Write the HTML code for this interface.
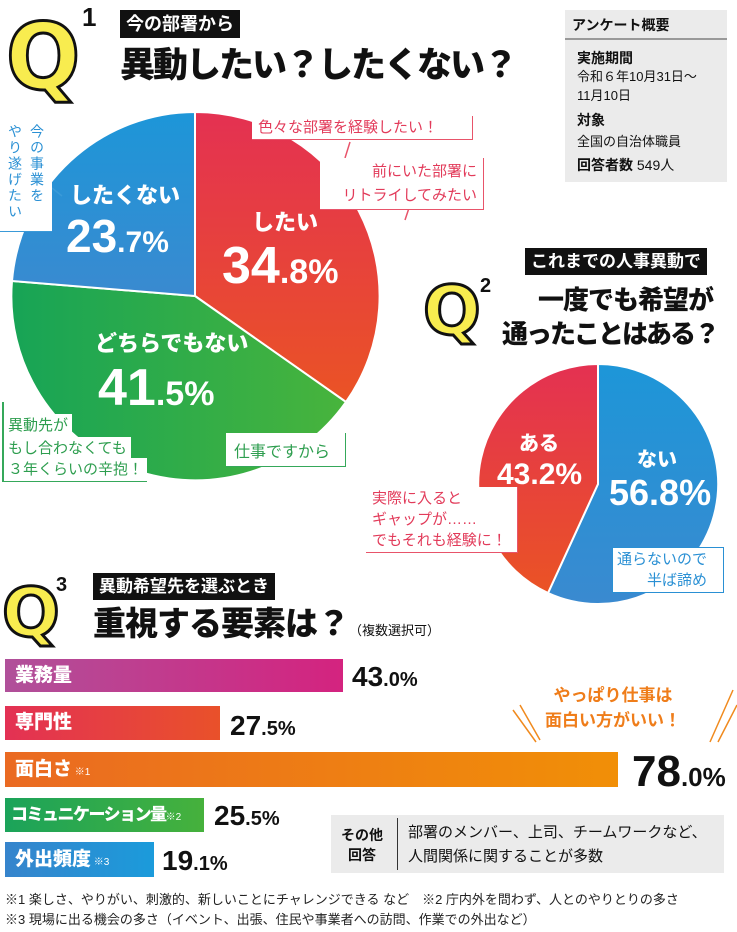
<!DOCTYPE html>
<html><head><meta charset="utf-8"><style>
*{margin:0;padding:0;box-sizing:border-box}
body{width:737px;height:932px;background:#fff;position:relative;overflow:hidden;font-family:"Liberation Sans","Noto Sans CJK JP",sans-serif;color:#111}
.a{position:absolute;white-space:nowrap}
.q{font-weight:900;color:#f8ec4f;-webkit-text-stroke:3px #111;font-family:"DejaVu Sans",sans-serif;line-height:1}
.sup{font-weight:700;color:#111;line-height:1}
.blk{background:#111;color:#fff;font-weight:700;padding:0 6px}
.ttl{font-weight:900;color:#111;line-height:1}
.w{color:#fff;font-weight:900;line-height:1}
.cr{background:#fff;border:1.5px solid #e8546a;color:#e23b5a;font-size:15px;line-height:21px;padding:1px 6px;border-left:none;border-top:none}
.bar{position:absolute;left:5px;color:#fff;font-weight:900;font-size:19px;padding-left:10px}
.pct{position:absolute;font-weight:900;line-height:1;color:#111}
.gl{position:absolute;background:#fff;color:#2e9e4f;font-size:15px;line-height:23px;padding:0 4px}
</style></head><body>

<!-- Q1 header -->
<div class="a q" style="left:4px;top:12px;font-size:92px;transform:scaleX(0.95)">Q</div>
<div class="a sup" style="left:82px;top:4px;font-size:26px">1</div>
<div class="a blk" style="left:120px;top:10px;height:28px;line-height:28px;font-size:18px">今の部署から</div>
<div class="a ttl" style="left:120px;top:48px;font-size:35px;letter-spacing:-2px">異動したい？したくない？</div>

<!-- survey box -->
<div class="a" style="left:565px;top:10px;width:162px;height:172px;background:#ebebeb"></div>
<div class="a" style="left:565px;top:38px;width:162px;height:2px;background:#999"></div>
<div class="a" style="left:572px;top:15px;font-size:14px;font-weight:700">アンケート概要</div>
<div class="a" style="left:577px;top:48px;font-size:14px;font-weight:700;line-height:20px">実施期間</div>
<div class="a" style="left:577px;top:67px;font-size:13px;line-height:19px">令和６年10月31日～<br>11月10日</div>
<div class="a" style="left:577px;top:110px;font-size:14px;font-weight:700">対象</div>
<div class="a" style="left:577px;top:131px;font-size:13px">全国の自治体職員</div>
<div class="a" style="left:577px;top:155px;font-size:14px"><b>回答者数</b> 549人</div>

<svg class="a" style="left:0;top:0" width="737" height="932">
<defs>
<linearGradient id="gr" x1="0" y1="0" x2="0" y2="1"><stop offset="0" stop-color="#e43152"/><stop offset="1" stop-color="#ea5325"/></linearGradient>
<linearGradient id="gg" x1="0" y1="0" x2="1" y2="0"><stop offset="0" stop-color="#17a456"/><stop offset="1" stop-color="#48b43c"/></linearGradient>
<linearGradient id="gb" x1="0" y1="0" x2="0" y2="1"><stop offset="0" stop-color="#1d96d8"/><stop offset="1" stop-color="#3a8ad0"/></linearGradient>
<linearGradient id="b1" x1="0" x2="1"><stop offset="0" stop-color="#b0509a"/><stop offset="1" stop-color="#d4237f"/></linearGradient>
<linearGradient id="b2" x1="0" x2="1"><stop offset="0" stop-color="#e33154"/><stop offset="1" stop-color="#e9512a"/></linearGradient>
<linearGradient id="b3" x1="0" x2="1"><stop offset="0" stop-color="#ea6a22"/><stop offset="1" stop-color="#f18f07"/></linearGradient>
<linearGradient id="b4" x1="0" x2="1"><stop offset="0" stop-color="#1ba35a"/><stop offset="1" stop-color="#46b13c"/></linearGradient>
<linearGradient id="b5" x1="0" x2="1"><stop offset="0" stop-color="#3684cc"/><stop offset="1" stop-color="#1b9bdb"/></linearGradient>
</defs>
<path d="M195,296 L195,112 A184,184 0 0 1 346,402 Z" fill="url(#gr)" stroke="#fff" stroke-width="2"/>
<path d="M195,296 L346,402 A184,184 0 0 1 12,281 Z" fill="url(#gg)" stroke="#fff" stroke-width="2"/>
<path d="M195,296 L12,281 A184,184 0 0 1 195,112 Z" fill="url(#gb)" stroke="#fff" stroke-width="2"/>
<path d="M598,484 L598,364 A120,120 0 1 1 548,593 Z" fill="url(#gb)" stroke="#fff" stroke-width="2"/>
<path d="M598,484 L548,593 A120,120 0 0 1 598,364 Z" fill="url(#gr)" stroke="#fff" stroke-width="2"/>
<rect x="5" y="659" width="338" height="33" fill="url(#b1)"/>
<rect x="5" y="706" width="215" height="34" fill="url(#b2)"/>
<rect x="5" y="752" width="613" height="35" fill="url(#b3)"/>
<rect x="5" y="798" width="199" height="34" fill="url(#b4)"/>
<rect x="5" y="842" width="149" height="35" fill="url(#b5)"/>
<path d="M513,710 L536,742 M520,705 L540,740" stroke="#f08a1e" stroke-width="1.5"/>
<path d="M733,690 L710,742 M737,705 L718,742" stroke="#f08a1e" stroke-width="1.5"/>
<path d="M350,142 L345,158" stroke="#e8546a" stroke-width="1.5"/>
<path d="M410,205 L405,220" stroke="#e8546a" stroke-width="1.5"/>
<path d="M52,188 L62,196" stroke="#3a9ad8" stroke-width="1.5"/>
</svg>

<div class="a w" style="left:70px;top:185px;font-size:22px">したくない</div>
<div class="a w" style="left:66px;top:213px;font-size:46px">23<span style="font-size:30px">.7%</span></div>
<div class="a w" style="left:252px;top:212px;font-size:22px">したい</div>
<div class="a w" style="left:222px;top:240px;font-size:52px">34<span style="font-size:34px">.8%</span></div>
<div class="a w" style="left:95px;top:333px;font-size:22px">どちらでもない</div>
<div class="a w" style="left:98px;top:362px;font-size:52px">41<span style="font-size:34px">.5%</span></div>

<div class="a cr" style="left:252px;top:116px;width:221px">色々な部署を経験したい！</div>
<div class="a cr" style="left:320px;top:158px;width:164px;text-align:right;line-height:24px;padding-top:2px">前にいた部署に<br>リトライしてみたい</div>
<div class="a" style="left:0;top:118px;width:52px;height:114px;background:#fff;border-bottom:1.5px solid #3a9ad8"></div>
<div class="a" style="left:4px;top:124px;writing-mode:vertical-rl;font-size:14px;color:#2a90d4;line-height:22px;letter-spacing:2px">今の事業を<br>やり遂げたい</div>
<div class="a" style="left:2px;top:402px;width:1.5px;height:80px;background:#35a85a"></div>
<div class="gl" style="left:4px;top:414px">異動先が</div>
<div class="gl" style="left:4px;top:437px">もし合わなくても</div>
<div class="gl" style="left:4px;top:458px;border-bottom:1.5px solid #35a85a">３年くらいの辛抱！</div>
<div class="a" style="left:226px;top:433px;width:120px;height:34px;background:#fff;border-right:1.5px solid #35a85a;border-bottom:1.5px solid #35a85a"></div>
<div class="a" style="left:234px;top:438px;font-size:16px;color:#2e9e4f">仕事ですから</div>

<!-- Q2 header -->
<div class="a blk" style="left:525px;top:248px;height:27px;line-height:27px;font-size:17px">これまでの人事異動で</div>
<div class="a q" style="left:423px;top:278px;font-size:68px">Q</div>
<div class="a sup" style="left:480px;top:276px;font-size:20px">2</div>
<div class="a ttl" style="left:538px;top:287px;font-size:26px;letter-spacing:-1px">一度でも希望が</div>
<div class="a ttl" style="left:502px;top:321px;font-size:26px;letter-spacing:-2px">通ったことはある？</div>

<div class="a w" style="left:519px;top:434px;font-size:20px">ある</div>
<div class="a w" style="left:497px;top:460px;font-size:30px">43.2%</div>
<div class="a w" style="left:637px;top:450px;font-size:20px">ない</div>
<div class="a w" style="left:609px;top:475px;font-size:36px">56.8%</div>
<div class="a cr" style="left:366px;top:487px;width:152px;line-height:21px">実際に入ると<br>ギャップが……<br>でもそれも経験に！</div>
<div class="a" style="left:612px;top:547px;width:112px;height:46px;background:#fff;border:1px solid #2a90d4"></div>
<div class="a" style="left:617px;top:549px;font-size:15px;color:#2a90d4;line-height:21px;text-align:right">通らないので<br>半ば諦め</div>

<!-- Q3 header -->
<div class="a q" style="left:2px;top:580px;font-size:68px">Q</div>
<div class="a sup" style="left:56px;top:575px;font-size:20px">3</div>
<div class="a blk" style="left:93px;top:573px;height:27px;line-height:27px;font-size:17px">異動希望先を選ぶとき</div>
<div class="a ttl" style="left:93px;top:607px;font-size:33px;letter-spacing:-1px">重視する要素は？<span style="font-size:13px;font-weight:400;letter-spacing:0">（複数選択可）</span></div>

<div class="bar" style="top:659px;line-height:33px">業務量</div>
<div class="bar" style="top:706px;line-height:34px">専門性</div>
<div class="bar" style="top:752px;line-height:35px">面白さ<span style="font-size:10px;font-weight:400"> ※1</span></div>
<div class="bar" style="top:798px;line-height:34px;font-size:17px;letter-spacing:-1.5px;padding-left:6px">コミュニケーション量<span style="font-size:10px;font-weight:400;letter-spacing:0">※2</span></div>
<div class="bar" style="top:842px;line-height:35px">外出頻度<span style="font-size:10px;font-weight:400"> ※3</span></div>
<div class="pct" style="left:352px;top:663px;font-size:28px">43<span style="font-size:20px">.0%</span></div>
<div class="pct" style="left:230px;top:712px;font-size:28px">27<span style="font-size:20px">.5%</span></div>
<div class="pct" style="left:632px;top:750px;font-size:44px">78<span style="font-size:26px">.0%</span></div>
<div class="pct" style="left:214px;top:802px;font-size:28px">25<span style="font-size:20px">.5%</span></div>
<div class="pct" style="left:162px;top:847px;font-size:28px">19<span style="font-size:20px">.1%</span></div>
<div class="a" style="left:545px;top:683px;font-size:17px;font-weight:700;color:#ef7d1a;line-height:25px;text-align:center">やっぱり仕事は<br>面白い方がいい！</div>

<div class="a" style="left:331px;top:815px;width:393px;height:58px;background:#ebebeb"></div>
<div class="a" style="left:397px;top:818px;width:1px;height:52px;background:#333"></div>
<div class="a" style="left:341px;top:825px;font-size:14px;font-weight:700;line-height:20px;text-align:center">その他<br>回答</div>
<div class="a" style="left:408px;top:821px;font-size:15px;line-height:24px">部署のメンバー、上司、チームワークなど、<br>人間関係に関することが多数</div>

<div class="a" style="left:5px;top:890px;font-size:13px;line-height:20px;color:#222">※1 楽しさ、やりがい、刺激的、新しいことにチャレンジできる など　※2 庁内外を問わず、人とのやりとりの多さ<br>※3 現場に出る機会の多さ（イベント、出張、住民や事業者への訪問、作業での外出など）</div>
</body></html>
